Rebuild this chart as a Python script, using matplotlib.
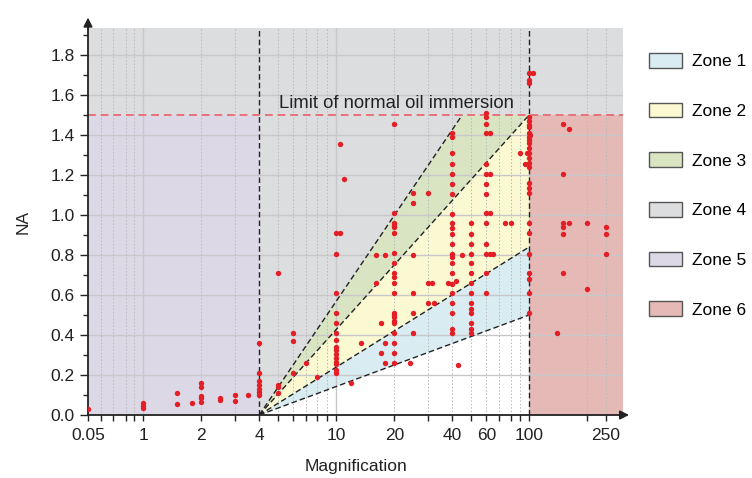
import numpy as np
import matplotlib
matplotlib.use("Agg")
import matplotlib.pyplot as plt
from matplotlib.patches import Patch

plt.rcParams['font.family'] = ['Liberation Sans', 'DejaVu Sans']

# Data: objective magnification vs numerical aperture
mag = ([0.05] + [1] * 3 + [1.5] * 2 + [1.8] + [2] * 5 + [2.5] * 2 + [3] * 2 + [3.5]
       + [4] * 7 + [5] * 4 + [6] * 3 + [7] + [8] + [10] * 15 + [10.5] * 2 + [11] + [12] + [13.5]
       + [16] * 2 + [17] * 2 + [18] * 3 + [20] * 21 + [24] + [25] * 6 + [30] * 3 + [31.5] + [32]
       + [38] + [42] + [40] * 22 + [43] + [45] + [50] * 14 + [60] * 14 + [63] * 4 + [65] + [75] + [80]
       + [90] + [95] + [97] + [100] * 26 + [101] + [105] + [140] + [150] * 6 + [160] * 2 + [200] * 2
       + [250] * 3)
na = ([0.03]
      + [0.035, 0.045, 0.058]
      + [0.053, 0.11]
      + [0.058]
      + [0.16, 0.14, 0.095, 0.085, 0.063]
      + [0.083, 0.077]
      + [0.098, 0.068]
      + [0.1]
      + [0.36, 0.21, 0.17, 0.15, 0.13, 0.115, 0.1]
      + [0.71, 0.15, 0.14, 0.11]
      + [0.41, 0.37, 0.21]
      + [0.26]
      + [0.19]
      + [0.91, 0.805, 0.61, 0.51, 0.46, 0.41, 0.375, 0.34, 0.325, 0.305, 0.283, 0.267, 0.255, 0.225, 0.21]
      + [1.355, 0.91]
      + [1.18]
      + [0.16]
      + [0.36]
      + [0.8, 0.66]
      + [0.46, 0.31]
      + [0.8, 0.36, 0.26]
      + [1.455, 1.01, 0.96, 0.95, 0.94, 0.91, 0.81, 0.76, 0.71, 0.69, 0.66, 0.61, 0.51, 0.5, 0.49,
         0.47, 0.46, 0.41, 0.36, 0.31, 0.26]
      + [0.26]
      + [1.11, 1.06, 0.8, 0.61, 0.51, 0.41]
      + [1.11, 0.66, 0.56]
      + [0.66]
      + [0.56]
      + [0.66]
      + [0.67]
      + [1.41, 1.39, 1.31, 1.255, 1.205, 1.155, 1.105, 1.005, 0.96, 0.935, 0.905, 0.855, 0.805, 0.79,
         0.76, 0.71, 0.655, 0.61, 0.56, 0.51, 0.43, 0.41]
      + [0.25]
      + [0.8]
      + [0.96, 0.905, 0.855, 0.805, 0.76, 0.71, 0.66, 0.61, 0.56, 0.53, 0.51, 0.46, 0.43, 0.41]
      + [1.51, 1.49, 1.455, 1.41, 1.255, 1.205, 1.155, 1.105, 1.01, 0.96, 0.855, 0.805, 0.71, 0.61]
      + [1.41, 1.205, 1.01, 0.805]
      + [0.805]
      + [0.96]
      + [0.96]
      + [1.31]
      + [1.255]
      + [1.31]
      + [1.71, 1.675, 1.66, 1.49, 1.47, 1.45, 1.44, 1.41, 1.39, 1.375, 1.36, 1.335, 1.31, 1.285, 1.26,
         1.24, 1.16, 1.135, 1.11, 0.96, 0.91, 0.805, 0.71, 0.68, 0.61, 0.51]
      + [1.4]
      + [1.71]
      + [0.41]
      + [1.455, 1.205, 0.96, 0.94, 0.905, 0.71]
      + [1.43, 0.96]
      + [0.96, 0.63]
      + [0.94, 0.905, 0.805])

# zone boundaries
na_limit = 1.5
mag_lo, mag_hi = 4, 100
fan_na = [0.5, 0.84]        # NA at mag_hi for the two lower fan lines
fan_top_mag = 45            # magnification where the steepest fan line reaches na_limit

zone_names = ['Zone 1', 'Zone 2', 'Zone 3', 'Zone 4', 'Zone 5', 'Zone 6']
zone_colors = ['#d8ecf2', '#fbf9d2', '#d8e4c2', '#dcdddf', '#ddd8e6', '#e5b9b5']

xticks_lab = [0.05, 1, 2, 4, 10, 20, 40, 60, 100, 250]
xticks_all = [0.05, 0.1, 0.2, 0.4, 0.6, 1, 2, 3, 4, 5, 6, 7, 8, 9, 10, 20, 30, 40, 50, 60, 70, 80,
              90, 100, 200, 250]

XMIN, XMAX, YMAX = 0.05, 307, 1.933


# piecewise scale: log above 1, squeezed log below 1
def fwd(x):
    lx = np.log10(np.clip(np.asarray(x, float), 1e-6, None))
    return np.where(lx >= 0, lx, lx * 0.219)


def inv(t):
    t = np.asarray(t, float)
    return np.where(t >= 0, 10.0 ** t, 10.0 ** (t / 0.219))


fig = plt.figure(figsize=(7.52, 4.78), dpi=100)
ax = fig.add_axes([88 / 752, 63 / 478, (623.3 - 88) / 752, (415 - 28.3) / 478])
ax.set_xscale('function', functions=(fwd, inv))
ax.set_xlim(XMIN, XMAX)
ax.set_ylim(0, YMAX)

c1, c2, c3, c4, c5, c6 = zone_colors
ax.fill_between([XMIN, XMAX], na_limit, YMAX, color=c4, lw=0, zorder=0.5)
ax.fill_between([XMIN, mag_lo], 0, na_limit, color=c5, lw=0, zorder=0.5)
ax.fill_between([mag_hi, XMAX], 0, na_limit, color=c6, lw=0, zorder=0.5)
ax.fill([mag_lo, fan_top_mag, mag_lo], [0, na_limit, na_limit], color=c4, lw=0, zorder=0.5)
ax.fill([mag_lo, mag_hi, fan_top_mag], [0, na_limit, na_limit], color=c3, lw=0, zorder=0.5)
ax.fill([mag_lo, mag_hi, mag_hi], [0, fan_na[1], na_limit], color=c2, lw=0, zorder=0.5)
ax.fill([mag_lo, mag_hi, mag_hi], [0, fan_na[0], fan_na[1]], color=c1, lw=0, zorder=0.5)

# grid
for yv in np.arange(0.2, 1.81, 0.2):
    ax.axhline(yv, color='#c8c8ca', lw=1.0, zorder=0.8)
for xv in xticks_all:
    if xv in (1, 10):
        ax.axvline(xv, color='#c8c8ca', lw=1.0, zorder=0.8)
    elif xv not in (0.05, 4, 100):
        ax.axvline(xv, color='#b9b9bb', lw=0.7, ls=(0, (1.5, 2)), zorder=0.8)

dash = (0, (4, 2.2))
for m in (mag_lo, mag_hi):
    ax.axvline(m, color='#222222', lw=1.0, ls=dash, zorder=2)
for v in fan_na:
    ax.plot([mag_lo, mag_hi], [0, v], color='#222222', lw=1.0, ls=dash, zorder=2)
ax.plot([mag_lo, mag_hi], [0, na_limit], color='#222222', lw=1.0, ls=dash, zorder=2)
ax.plot([mag_lo, fan_top_mag], [0, na_limit], color='#222222', lw=1.0, ls=dash, zorder=2)
ax.axhline(na_limit, color='#e8727a', lw=1.4, ls=(0, (4, 2.5)), zorder=2)

ax.text(20.6, na_limit + 0.015, 'Limit of normal oil immersion', ha='center', va='bottom',
        fontsize=13.3, color='#222222', zorder=3)

ax.scatter(mag, na, s=15, color='#e41e26', lw=0, zorder=4)

# axes styling
for s in ('top', 'right'):
    ax.spines[s].set_visible(False)
for s in ('left', 'bottom'):
    ax.spines[s].set_linewidth(1.3)
    ax.spines[s].set_color('#222222')
ax.set_xticks(xticks_all, [str(v) if v in xticks_lab else '' for v in xticks_all])
ax.set_xticks([], minor=True)
ax.set_yticks(np.arange(0, 1.81, 0.2), [f'{v:.1f}' for v in np.arange(0, 1.81, 0.2)])
ax.set_yticks(np.arange(0.1, 1.91, 0.2), minor=True)
ax.tick_params(axis='x', length=4, width=1, labelsize=12.5, colors='#222222', pad=5)
ax.tick_params(axis='y', which='major', length=6, width=1, labelsize=12.5, colors='#222222')
ax.tick_params(axis='y', which='minor', length=3.5, width=1, colors='#222222')
ax.set_xlabel('Magnification', fontsize=12.5, color='#222222', labelpad=12)
ax.set_ylabel('NA', fontsize=12.5, color='#222222', labelpad=14)

ax.annotate('', xy=(1.016, 0), xytext=(0.99, 0), xycoords='axes fraction',
            arrowprops=dict(arrowstyle='-|>', color='#222222', lw=1.3, mutation_scale=13))
ax.annotate('', xy=(0, 1.035), xytext=(0, 0.99), xycoords='axes fraction',
            arrowprops=dict(arrowstyle='-|>', color='#222222', lw=1.3, mutation_scale=13))

handles = [Patch(facecolor=c, edgecolor='#555555', lw=1.0) for c in zone_colors]
fig.legend(handles, zone_names, loc='upper left', bbox_to_anchor=(649.3 / 752, 0.889),
           frameon=False, fontsize=12.5, handlelength=1.9, handleheight=0.92,
           handletextpad=0.57, labelspacing=1.92, borderpad=0, borderaxespad=0)

fig.savefig('out.png', dpi=100)
